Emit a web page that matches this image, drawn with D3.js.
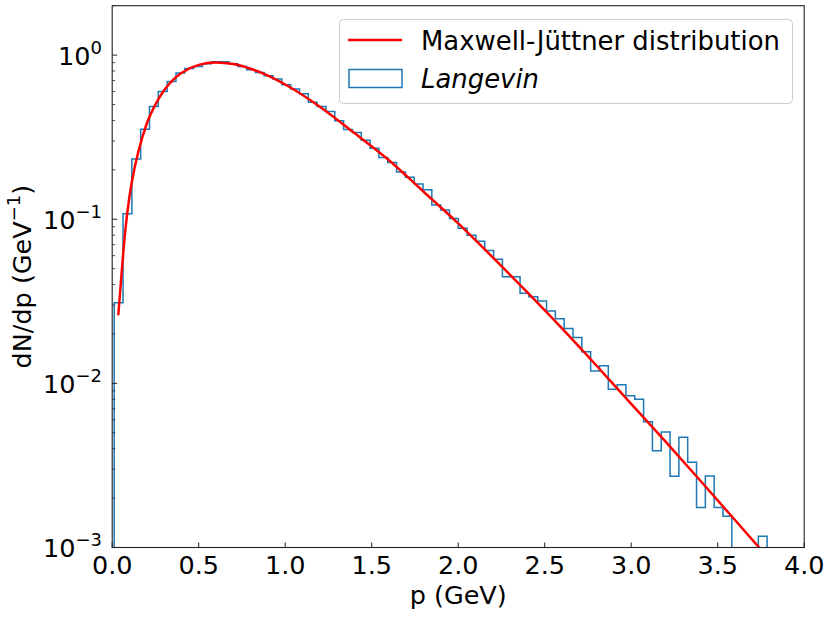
<!DOCTYPE html>
<html>
<head>
<meta charset="utf-8">
<script src="https://cdn.jsdelivr.net/npm/d3@7"></script>
<style>
  html, body { margin: 0; padding: 0; background: #ffffff; }
  svg { display: block; font-family: "DejaVu Sans", sans-serif; }
</style>
</head>
<body>
<svg id="chart" width="830" height="623"></svg>
<script>
// ---------------- data ----------------
// Histogram ("Langevin"): first bin edge, bin width and the per-bin densities (GeV^-1)
const histStart = 0.0116;
const histBinWidth = 0.0510;
const histValues = [
  0.031, 0.108, 0.233, 0.354, 0.486, 0.600, 0.690, 0.777, 0.828, 0.853,
  0.885, 0.910, 0.910, 0.885, 0.852, 0.813, 0.783, 0.748, 0.714, 0.659,
  0.621, 0.581, 0.517, 0.486, 0.453, 0.398, 0.352, 0.338, 0.303, 0.271,
  0.238, 0.222, 0.194, 0.180, 0.164, 0.151, 0.122, 0.114, 0.101, 0.088,
  0.080, 0.0735, 0.0644, 0.057, 0.0447, 0.0447, 0.0354, 0.0337, 0.0318, 0.0276,
  0.0248, 0.0216, 0.019, 0.0156, 0.0119, 0.0128, 0.0092, 0.0098, 0.0084, 0.0080,
  0.00583, 0.00388, 0.00505, 0.00272, 0.00469, 0.00331, 0.00175, 0.00273, 0.00175, 0.00155,
  0, 0, 0, 0.00117
];
// Maxwell-Jüttner curve
const curveP = [0.035, 0.05, 0.075, 0.1, 0.125, 0.15, 0.2, 0.25, 0.3, 0.35, 0.4, 0.5, 0.6, 0.7, 0.8, 0.9,
                1.0, 1.2, 1.4, 1.6, 1.8, 2.0, 2.2, 2.4, 2.6, 2.8, 3.0, 3.2, 3.4, 3.6, 3.75];
const curveV = [0.026, 0.041, 0.084, 0.138, 0.195, 0.255, 0.383, 0.500, 0.610, 0.705, 0.778, 0.872, 0.902, 0.882, 0.826, 0.750,
                0.662, 0.485, 0.335, 0.229, 0.147, 0.0943, 0.0585, 0.0358, 0.0216, 0.0128, 0.0075, 0.0044, 0.00255, 0.00147, 0.00097];
// axes
const xDomain = [0, 4];
const yDomain = [1e-3, 2];
const xTicks = [0, 0.5, 1.0, 1.5, 2.0, 2.5, 3.0, 3.5, 4.0];
const yTickExps = [-3, -2, -1, 0];
const legendLabels = ["Maxwell-Jüttner distribution", "Langevin"];
const xLabel = "p (GeV)";

// ---------------- layout ----------------
const plot = { left: 112.2, right: 804.2, top: 5.7, bottom: 547.5 };
const histColor = "#1f77b4";
const curveColor = "#ff0000";
const fontMain = 25.5;
const fontLegend = 25.9;
const fontSup = 18;

const svg = d3.select("#chart");
const x = d3.scaleLinear().domain(xDomain).range([plot.left, plot.right]);
const y = d3.scaleLog().domain(yDomain).range([plot.bottom, plot.top]);

svg.append("defs").append("clipPath").attr("id", "clip")
  .append("rect")
  .attr("x", plot.left).attr("y", plot.top)
  .attr("width", plot.right - plot.left).attr("height", plot.bottom - plot.top);

const g = svg.append("g").attr("clip-path", "url(#clip)");

// histogram step outline
const floorVal = 1e-6;
const edges = d3.range(histValues.length + 1).map(i => histStart + i * histBinWidth);
const stepPts = [[edges[0], floorVal]];
histValues.forEach((v, i) => {
  const vv = v > 0 ? v : floorVal;
  stepPts.push([edges[i], vv]);
  stepPts.push([edges[i + 1], vv]);
});
stepPts.push([edges[edges.length - 1], floorVal]);
const yc = v => Math.min(y(v), plot.bottom + 50);
g.append("path")
  .attr("d", d3.line().x(d => x(d[0])).y(d => yc(d[1]))(stepPts))
  .attr("fill", "none")
  .attr("stroke", histColor)
  .attr("stroke-width", 1.5)
  .attr("stroke-linejoin", "miter");

// curve
const curvePts = curveP.map((p, i) => [p, curveV[i]]);
g.append("path")
  .attr("d", d3.line().x(d => x(d[0])).y(d => y(d[1])).curve(d3.curveMonotoneX)(curvePts))
  .attr("fill", "none")
  .attr("stroke", curveColor)
  .attr("stroke-width", 2.5);

// spines
svg.append("rect")
  .attr("x", plot.left).attr("y", plot.top)
  .attr("width", plot.right - plot.left).attr("height", plot.bottom - plot.top)
  .attr("fill", "none").attr("stroke", "#222").attr("stroke-width", 1.1);

// x ticks (inward)
const xAxis = svg.append("g");
xTicks.forEach(t => {
  xAxis.append("line")
    .attr("x1", x(t)).attr("x2", x(t))
    .attr("y1", plot.bottom).attr("y2", plot.bottom - 5)
    .attr("stroke", "#222").attr("stroke-width", 1);
  xAxis.append("text")
    .attr("x", x(t)).attr("y", plot.bottom + 26)
    .attr("text-anchor", "middle")
    .attr("font-size", fontMain)
    .attr("fill", "#000")
    .text(t.toFixed(1));
});

// y ticks (log, inward)
const yAxis = svg.append("g");
yTickExps.forEach(e => {
  const v = Math.pow(10, e);
  yAxis.append("line")
    .attr("x1", plot.left).attr("x2", plot.left + 5)
    .attr("y1", y(v)).attr("y2", y(v))
    .attr("stroke", "#222").attr("stroke-width", 1);
  const txt = yAxis.append("text")
    .attr("x", 102).attr("y", y(v) + 9.5)
    .attr("text-anchor", "end")
    .attr("font-size", fontMain)
    .attr("fill", "#000");
  txt.append("tspan").text("10");
  txt.append("tspan").attr("font-size", fontSup).attr("dy", -11)
    .text(e < 0 ? "\u2212" + Math.abs(e) : String(e));
});
// minor ticks
for (let e = -3; e <= 0; e++) {
  for (let m = 2; m <= 9; m++) {
    const v = m * Math.pow(10, e);
    if (v < yDomain[0] || v > yDomain[1]) continue;
    yAxis.append("line")
      .attr("x1", plot.left).attr("x2", plot.left + 3)
      .attr("y1", y(v)).attr("y2", y(v))
      .attr("stroke", "#222").attr("stroke-width", 0.8);
  }
}

// axis labels
svg.append("text")
  .attr("x", (plot.left + plot.right) / 2).attr("y", 603.5)
  .attr("text-anchor", "middle")
  .attr("font-size", fontMain)
  .text(xLabel);

const yl = svg.append("text")
  .attr("transform", `translate(31,${(plot.top + plot.bottom) / 2}) rotate(-90)`)
  .attr("text-anchor", "middle")
  .attr("font-size", fontMain);
yl.append("tspan").text("dN/dp (GeV");
yl.append("tspan").attr("font-size", fontSup).attr("dy", -11).text("\u22121");
yl.append("tspan").attr("dy", 11).text(")");

// legend
const lg = svg.append("g");
lg.append("rect")
  .attr("x", 339.5).attr("y", 19.5).attr("width", 453).attr("height", 84)
  .attr("rx", 4).attr("ry", 4)
  .attr("fill", "#ffffff").attr("fill-opacity", 0.8)
  .attr("stroke", "#cccccc").attr("stroke-width", 1);
lg.append("line")
  .attr("x1", 348).attr("x2", 402).attr("y1", 40).attr("y2", 40)
  .attr("stroke", curveColor).attr("stroke-width", 2.5);
lg.append("rect")
  .attr("x", 349).attr("y", 69.5).attr("width", 53).attr("height", 18)
  .attr("fill", "none").attr("stroke", histColor).attr("stroke-width", 1.5);
lg.append("text")
  .attr("x", 421).attr("y", 49.5)
  .attr("font-size", fontLegend)
  .text(legendLabels[0]);
lg.append("text")
  .attr("x", 421).attr("y", 87.5)
  .attr("font-size", fontLegend)
  .attr("font-style", "italic")
  .text(legendLabels[1]);
</script>
</body>
</html>
